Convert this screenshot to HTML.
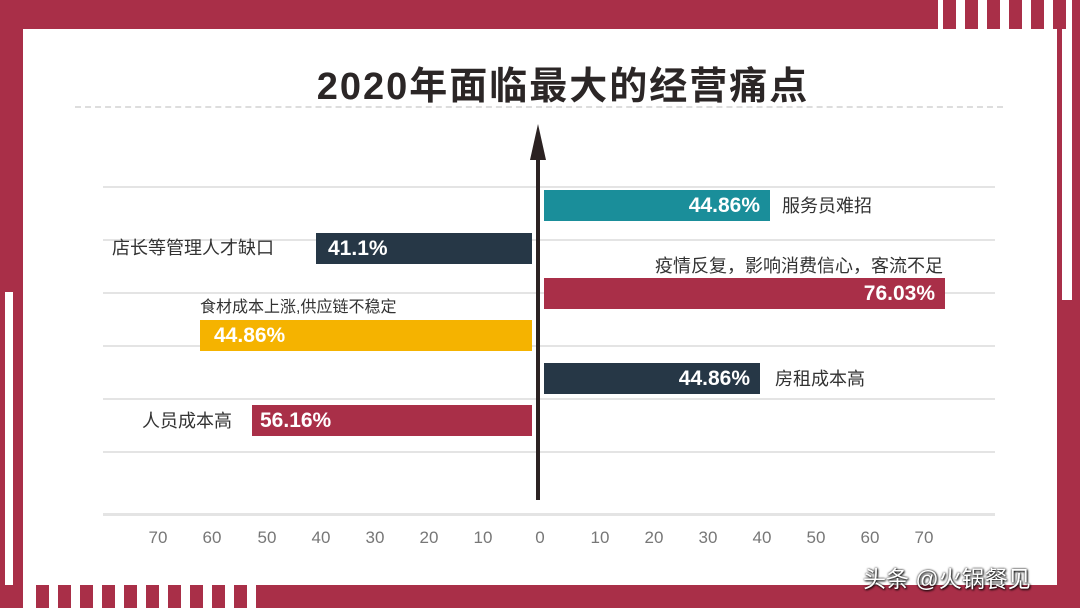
<!DOCTYPE html>
<html><head><meta charset="utf-8"><style>
body{margin:0;width:1080px;height:608px;overflow:hidden;background:#fff;font-family:"Liberation Sans","Noto Sans CJK SC",sans-serif;position:relative}
.r{position:absolute;background:#a92f48}
.w{position:absolute;background:#fff}
.g{position:absolute;left:103px;width:892px;height:2px;background:#e4e4e4}
.bar{position:absolute;height:31px;color:#fff;font-weight:bold;font-size:21px;line-height:31px;text-align:right;padding-right:10px;box-sizing:border-box;letter-spacing:0}
.lbl{position:absolute;font-size:18px;color:#333;line-height:20px;white-space:nowrap}
.t{position:absolute;top:528px;font-size:17px;color:#777;width:40px;text-align:center}
</style></head><body>
<div class="r" style="left:0;top:0;width:1080px;height:29px"></div>
<div class="r" style="left:0;top:0;width:23px;height:608px"></div>
<div class="w" style="left:5px;top:292px;width:8px;height:316px"></div>
<div class="r" style="left:0;top:585px;width:1080px;height:23px"></div>
<div class="r" style="left:1057px;top:0;width:23px;height:608px"></div>
<div class="w" style="left:1062px;top:0;width:10px;height:300px"></div>
<div class="w" style="left:938px;top:0;width:119px;height:29px"></div>
<div id="bs"></div>
<script>
var s='<div class="w" style="left:23px;top:585px;width:13px;height:23px"></div>';
for(var i=0;i<10;i++){s+='<div class="w" style="left:'+(49+i*22)+'px;top:585px;width:9px;height:23px"></div>';}
for(var i=0;i<6;i++){s+='<div class="r" style="left:'+(943+i*22)+'px;top:0;width:13px;height:29px"></div>';}
document.getElementById('bs').innerHTML=s;
</script>
<div style="position:absolute;left:23px;top:55px;width:1080px;text-align:center;font-size:38px;font-weight:bold;color:#2b2626;letter-spacing:2px">2020年面临最大的经营痛点</div>
<div style="position:absolute;left:75px;top:106px;width:928px;border-top:2px dashed #ddd"></div>
<div class="g" style="top:186px"></div><div class="g" style="top:239px"></div><div class="g" style="top:292px"></div><div class="g" style="top:345px"></div><div class="g" style="top:398px"></div><div class="g" style="top:451px"></div><div class="g" style="top:513px;height:3px"></div>
<div class="bar" style="left:544px;top:190px;width:226px;background:#1a8e9a">44.86%</div>
<div class="lbl" style="left:782px;top:196px">服务员难招</div>
<div class="bar" style="left:316px;top:233px;width:216px;background:#263746;text-align:left;padding-left:12px">41.1%</div>
<div class="lbl" style="left:112px;top:238px">店长等管理人才缺口</div>
<div class="lbl" style="left:655px;top:256px">疫情反复，影响消费信心，客流不足</div>
<div class="bar" style="left:544px;top:278px;width:401px;background:#a92f48">76.03%</div>
<div class="lbl" style="left:200px;top:298px;font-size:16px">食材成本上涨,供应链不稳定</div>
<div class="bar" style="left:200px;top:320px;width:332px;background:#f5b300;text-align:left;padding-left:14px">44.86%</div>
<div class="bar" style="left:544px;top:363px;width:216px;background:#263746">44.86%</div>
<div class="lbl" style="left:775px;top:369px">房租成本高</div>
<div class="bar" style="left:252px;top:405px;width:280px;background:#a92f48;text-align:left;padding-left:8px">56.16%</div>
<div class="lbl" style="left:142px;top:411px">人员成本高</div>
<svg style="position:absolute;left:0;top:0" width="1080" height="608"><line x1="538" y1="140" x2="538" y2="500" stroke="#2b2222" stroke-width="4"/><polygon points="538,124 530,160 546,160" fill="#2b2222"/></svg>
<div class="t" style="left:138px">70</div><div class="t" style="left:192px">60</div><div class="t" style="left:247px">50</div><div class="t" style="left:301px">40</div><div class="t" style="left:355px">30</div><div class="t" style="left:409px">20</div><div class="t" style="left:463px">10</div><div class="t" style="left:520px">0</div><div class="t" style="left:580px">10</div><div class="t" style="left:634px">20</div><div class="t" style="left:688px">30</div><div class="t" style="left:742px">40</div><div class="t" style="left:796px">50</div><div class="t" style="left:850px">60</div><div class="t" style="left:904px">70</div>
<div style="position:absolute;left:863px;top:560px;font-size:23px;color:#fff;text-shadow:1px 1px 2px #000,0 0 2px #000">头条 @火锅餐见</div>
</body></html>
